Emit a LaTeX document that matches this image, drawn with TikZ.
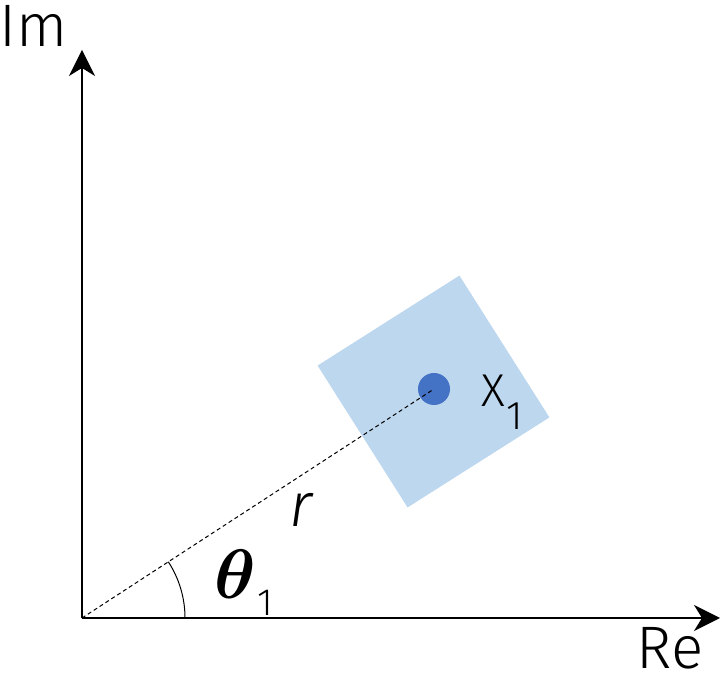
\documentclass[tikz,border=0pt]{standalone}
\usepackage{fontspec}
\usepackage{amsmath}
\setmainfont{Fira Sans}[UprightFont=* Light, ItalicFont=* Light Italic]
\usetikzlibrary{arrows.meta,positioning}
\definecolor{boxblue}{HTML}{BDD7EE}
\definecolor{dotblue}{HTML}{4472C4}
\tikzset{
  axis/.style={-{Stealth[length=26pt,width=26pt,inset=8pt]}, line width=1.4pt},
  radius/.style={dashed, dash pattern=on 4pt off 3pt, line width=1pt},
  patch/.style={fill=boxblue, minimum size=168pt, inner sep=0pt, rotate=32.4},
  point/.style={circle, fill=dotblue, minimum size=32pt, inner sep=0pt},
  axlabel/.style={font=\fontsize{60}{60}\selectfont, inner sep=0pt},
  ptlabel/.style={font=\fontsize{46}{46}\selectfont, inner sep=0pt, anchor=base west}
}
\newcommand{\lowone}[2]{\raisebox{-#1}{\fontsize{#2}{#2}\selectfont 1}}

\begin{document}
\begin{tikzpicture}[x=1pt, y=1pt]
  \useasboundingbox (0,0) rectangle (723,684);
  \coordinate (o) at (82,66);
  \coordinate (imtip) at (82,634);
  \coordinate (retip) at (720,66);
  % rotated patch and its point
  \node[patch] (sq) at (433.5,292.5) {};
  \node[point] (x1) at (434,295) {};
  % axes
  \draw[axis] (o) -- (imtip);
  \draw[axis] (o) -- (retip);
  \draw[radius] (o) -- (x1.center);
  \draw[line width=1pt] ([shift={(0:103)}]o) arc (0:33.1:103);
  % labels
  \node[axlabel] (im) at (34,658) {Im};
  \node[axlabel] (re) at (670,36) {Re};
  \node[ptlabel] (xl) at (481,277) {X\kern2pt\lowone{23pt}{40}};
  \node[ptlabel, font=\fontsize{62}{62}\selectfont] (rl) at (289,157) {\itshape r};
  \node[inner sep=0pt, anchor=base west] (th) at (214,85)
    {\scalebox{7}{$\boldsymbol{\theta}$}\kern2pt\lowone{17pt}{38}};
\end{tikzpicture}
\end{document}
